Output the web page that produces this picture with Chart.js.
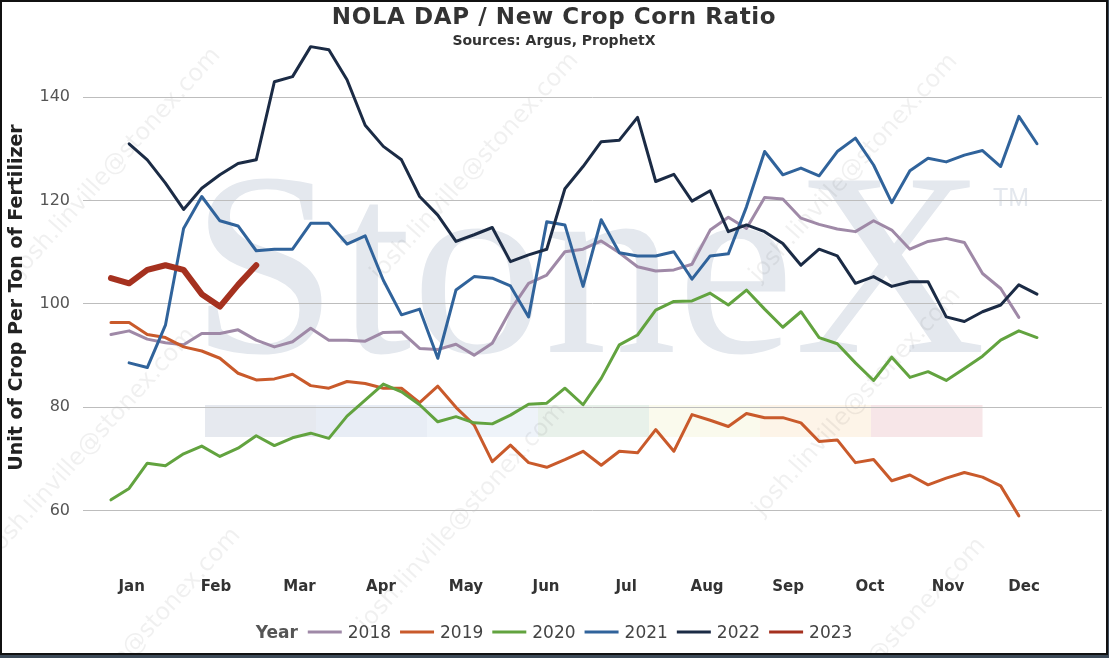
<!DOCTYPE html>
<html>
<head>
<meta charset="utf-8">
<title>NOLA DAP / New Crop Corn Ratio</title>
<script src="https://cdn.jsdelivr.net/npm/chart.js@4.4.0/dist/chart.umd.min.js"></script>
<style>
  html, body { margin: 0; padding: 0; background: #3c4a58; }
  #frame { position: absolute; left: 0; top: 0; width: 1104px; height: 651px; border: 2px solid #111; background: #fff; }
  canvas { display: block; }
</style>
</head>
<body>
<div id="frame"><canvas id="ratioChart" width="1104" height="651"></canvas></div>
<script>
// weekly values, one entry per week index (0..51), null = no reading
const years = ['2018', '2019', '2020', '2021', '2022', '2023'];
const lineColors = ['#9f89a7', '#c95a2b', '#62a33f', '#30639b', '#1b2b45', '#a5311f'];

const ratio2018 = [94.1, 94.8, 93.2, 92.5, 92.1, 94.3, 94.3, 95.0, 93.0, 91.7,
  92.7, 95.3, 93.0, 93.0, 92.8, 94.5, 94.6, 91.4, 91.2, 92.2,
  90.1, 92.4, 98.8, 104.0, 105.6, 110.1, 110.6, 112.2, 109.9, 107.2,
  106.4, 106.6, 107.7, 114.3, 116.8, 114.6, 120.6, 120.3, 116.6, 115.4,
  114.5, 114.0, 116.1, 114.3, 110.6, 112.1, 112.7, 111.9, 105.9, 103.0, 97.4];
const ratio2019 = [96.4, 96.4, 94.1, 93.5, 91.7, 90.9, 89.5, 86.6, 85.3, 85.5,
  86.4, 84.2, 83.7, 85.0, 84.6, 83.7, 83.7, 80.9, 84.1, 80.0,
  76.6, 69.5, 72.7, 69.3, 68.4, 69.9, 71.5, 68.8, 71.5, 71.2,
  75.7, 71.5, 78.6, 77.5, 76.3, 78.8, 78.0, 78.0, 77.0, 73.4,
  73.7, 69.3, 69.9, 65.8, 66.9, 65.0, 66.3, 67.4, 66.5, 64.8, 59.0];
const ratio2020 = [62.1, 64.3, 69.2, 68.7, 71.0, 72.5, 70.5, 72.1, 74.5, 72.6,
  74.1, 75.0, 74.0, 78.3, 81.4, 84.5, 83.0, 80.5, 77.2, 78.2,
  77.0, 76.8, 78.5, 80.6, 80.8, 83.7, 80.5, 85.6, 92.1, 94.0,
  98.8, 100.5, 100.6, 102.1, 99.8, 102.7, 99.0, 95.5, 98.5, 93.5,
  92.3, 88.6, 85.2, 89.7, 85.8, 86.9, 85.2, 87.5, 89.9, 93.0, 94.8, 93.5];
const ratio2021 = [null, 88.6, 87.7, 95.9, 114.6, 120.8, 116.1, 115.1, 110.3, 110.6,
  110.6, 115.6, 115.6, 111.6, 113.2, 104.6, 97.9, 99.0, 89.5, 102.7,
  105.3, 105.0, 103.5, 97.5, 115.9, 115.3, 103.4, 116.3, 109.9, 109.3,
  109.3, 110.1, 104.8, 109.3, 109.7, 118.8, 129.5, 125.0, 126.3, 124.8,
  129.5, 132.1, 126.9, 119.6, 125.8, 128.2, 127.5, 128.8, 129.7, 126.6, 136.3, 131.0];
const ratio2022 = [null, 131.0, 127.9, 123.4, 118.3, 122.4, 125.0, 127.2, 127.9, 143.0,
  144.0, 149.8, 149.2, 143.4, 134.6, 130.5, 127.9, 120.8, 117.2, 112.1,
  113.4, 114.8, 108.2, 109.5, 110.6, 122.3, 126.6, 131.4, 131.7, 136.1,
  123.7, 125.1, 119.9, 121.9, 114.0, 115.3, 114.0, 111.7, 107.5, 110.6,
  109.3, 104.0, 105.3, 103.4, 104.3, 104.3, 97.5, 96.6, 98.5, 99.8, 103.7, 101.9];
const ratio2023 = [105.0, 104.0, 106.6, 107.5, 106.6, 101.9, 99.5, 103.7, 107.5];

const allSeries = [ratio2018, ratio2019, ratio2020, ratio2021, ratio2022, ratio2023];

// month labels and where they sit on the week axis
const months = ['Jan', 'Feb', 'Mar', 'Apr', 'May', 'Jun', 'Jul', 'Aug', 'Sep', 'Oct', 'Nov', 'Dec'];
const monthWeekPos = [1.14, 5.78, 10.38, 14.87, 19.55, 23.96, 28.37, 32.83, 37.29, 41.8, 46.1, 50.29];
const yTicks = [60, 80, 100, 120, 140];

const FONT = "'DejaVu Sans', Verdana, sans-serif";

function toPoints(values) {
    return values
        .map((v, i) => ({ x: i, y: v }))
        .filter(p => p.y !== null);
}

// faded StoneX logo + email watermark behind the lines
const watermark = {
    id: 'watermark',
    beforeDraw(chart) {
        const ctx = chart.ctx;
        ctx.save();

        const bands = ['#e6e9ef', '#e8edf5', '#eef3f9', '#e8f1ea', '#fafaed', '#fdf4e8', '#f7e6e8'];
        const bandW = (980 - 203) / bands.length;
        bands.forEach((c, i) => {
            ctx.fillStyle = c;
            ctx.fillRect(203 + i * bandW, 403, bandW + 0.5, 32);
        });

        ctx.fillStyle = '#e4e8ee';
        ctx.font = "262px 'Liberation Serif', serif";
        ctx.textBaseline = 'alphabetic';
        const m = ctx.measureText('StoneX');
        const w = m.actualBoundingBoxLeft + m.actualBoundingBoxRight;
        const sx = 778 / w;
        ctx.save();
        ctx.translate(205, 350);
        ctx.scale(sx, 1);
        ctx.fillText('StoneX', m.actualBoundingBoxLeft, 0);
        ctx.restore();

        ctx.font = "25px 'Liberation Sans', sans-serif";
        ctx.fillText('TM', 991, 204);

        ctx.fillStyle = 'rgba(0, 0, 0, 0.06)';
        ctx.font = "24px " + FONT;
        ctx.textAlign = 'center';
        ctx.textBaseline = 'middle';
        const spots = [[115, 160], [473, 165], [852, 166], [90, 440], [460, 515], [855, 400], [135, 640], [880, 650]];
        spots.forEach(([x, y]) => {
            ctx.save();
            ctx.translate(x, y);
            ctx.rotate(-48 * Math.PI / 180);
            ctx.fillText('josh.linville@stonex.com', 0, 0);
            ctx.restore();
        });
        ctx.restore();
    }
};

// title, subtitle and the "Year" legend row
const headings = {
    id: 'headings',
    afterDraw(chart) {
        const ctx = chart.ctx;
        const mid = chart.width / 2;
        ctx.save();
        ctx.textAlign = 'center';
        ctx.textBaseline = 'alphabetic';
        ctx.fillStyle = '#333';
        ctx.font = "bold 23px " + FONT;
        ctx.letterSpacing = '0.6px';
        ctx.fillText('NOLA DAP / New Crop Corn Ratio', mid, 22);
        ctx.font = "bold 14px " + FONT;
        ctx.letterSpacing = '0px';
        ctx.fillText('Sources: Argus, ProphetX', mid, 43);

        // legend
        ctx.textAlign = 'left';
        const swatch = 34;
        ctx.font = "bold 17px " + FONT;
        const yearW = ctx.measureText('Year').width;
        ctx.font = "17px " + FONT;
        const textW = years.map(y => ctx.measureText(y).width);
        let total = yearW + 10;
        textW.forEach((tw, i) => { total += swatch + 6 + tw + (i < years.length - 1 ? 9 : 0); });
        let x = mid - total / 2;
        const base = 636;
        ctx.font = "bold 17px " + FONT;
        ctx.fillStyle = '#555';
        ctx.fillText('Year', x, base);
        x += yearW + 10;
        ctx.font = "17px " + FONT;
        years.forEach((y, i) => {
            ctx.strokeStyle = lineColors[i];
            ctx.lineWidth = 3;
            ctx.beginPath();
            ctx.moveTo(x, base - 6);
            ctx.lineTo(x + swatch, base - 6);
            ctx.stroke();
            x += swatch + 6;
            ctx.fillStyle = '#444';
            ctx.fillText(y, x, base);
            x += textW[i] + 9;
        });
        ctx.restore();
    }
};

function renderChart() {
    const ctx = document.getElementById('ratioChart').getContext('2d');
    const datasets = years.map((year, i) => ({
        label: year,
        data: toPoints(allSeries[i]),
        borderColor: lineColors[i],
        backgroundColor: lineColors[i],
        borderWidth: year === '2023' ? 6 : 3,
        borderJoinStyle: 'round',
        borderCapStyle: 'round',
        pointRadius: 0,
        tension: 0,
        order: years.length - i // later years on top
    }));

    new Chart(ctx, {
        type: 'line',
        data: { datasets },
        options: {
            responsive: false,
            animation: false,
            layout: { padding: { top: 28, right: 4, left: 0, bottom: 0 } },
            plugins: {
                legend: { display: false },
                tooltip: { enabled: false }
            },
            scales: {
                x: {
                    type: 'linear',
                    min: -1.54,
                    max: 54.58,
                    grid: { display: false, drawTicks: false },
                    border: { display: false },
                    afterBuildTicks: scale => { scale.ticks = monthWeekPos.map(v => ({ value: v })); },
                    afterFit: scale => { scale.height = 88; },
                    ticks: {
                        autoSkip: false,
                        maxRotation: 0,
                        padding: 13,
                        color: '#333',
                        font: { family: FONT, size: 15, weight: 'bold' },
                        callback: (value, index) => months[index]
                    }
                },
                y: {
                    min: 49.49,
                    max: 153.02,
                    afterBuildTicks: scale => { scale.ticks = yTicks.map(v => ({ value: v })); },
                    afterFit: scale => { scale.width = 81; },
                    grid: { color: '#bdbdbd', lineWidth: 1, drawTicks: false },
                    border: { display: false },
                    ticks: {
                        padding: 13,
                        color: '#555',
                        font: { family: FONT, size: 16 }
                    },
                    title: {
                        display: true,
                        text: 'Unit of Crop Per Ton of Fertilizer',
                        color: '#222',
                        padding: { top: 4 },
                        font: { family: FONT, size: 19, weight: 'bold' }
                    }
                }
            }
        },
        plugins: [watermark, headings]
    });
}

document.addEventListener('DOMContentLoaded', renderChart);
</script>
</body>
</html>
